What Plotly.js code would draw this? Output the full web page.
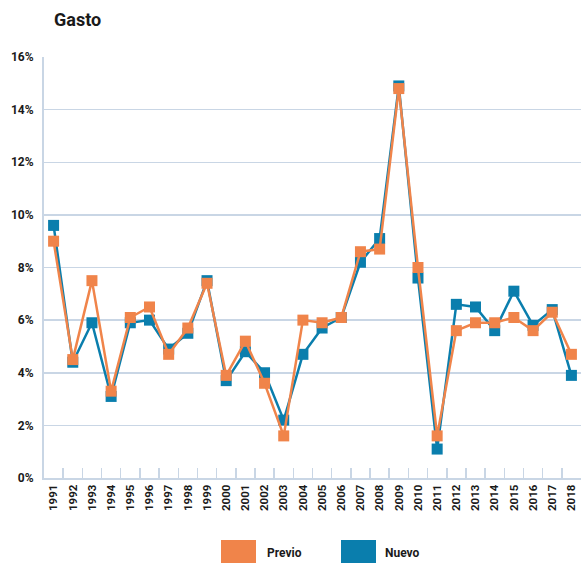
<!DOCTYPE html>
<html>
<head>
<meta charset="utf-8">
<script src="https://cdn.plot.ly/plotly-3.0.1.min.js"></script>
<style>html,body{margin:0;padding:0;background:#fff;}#chart{width:581px;height:564px;}</style>
</head>
<body>
<div id="chart"></div>
<script>
var years = ["1991","1992","1993","1994","1995","1996","1997","1998","1999","2000","2001","2002","2003","2004","2005","2006","2007","2008","2009","2010","2011","2012","2013","2014","2015","2016","2017","2018"];
var nuevo = [9.6,4.4,5.9,3.1,5.9,6.0,4.9,5.5,7.5,3.7,4.8,4.0,2.2,4.7,5.7,6.1,8.2,9.1,14.9,7.6,1.1,6.6,6.5,5.6,7.1,5.8,6.4,3.9];
var previo = [9.0,4.5,7.5,3.3,6.1,6.5,4.7,5.7,7.4,3.9,5.2,3.6,1.6,6.0,5.9,6.1,8.6,8.7,14.8,8.0,1.6,5.6,5.9,5.9,6.1,5.6,6.3,4.7];
var seriesNames = ["Previo","Nuevo"];
var yTicks = [0,2,4,6,8,10,12,14,16];

var cOrange = "#F0844A", cBlue = "#0A7EAD", cGrid = "#C9D6E5";
var fontFam = "Roboto, 'Liberation Sans', sans-serif";

var traces = [
  {x: years, y: nuevo, name: seriesNames[1], type: "scatter", mode: "lines+markers",
   line: {color: cBlue, width: 2.5}, marker: {symbol: "square", size: 11, color: cBlue}},
  {x: years, y: previo, name: seriesNames[0], type: "scatter", mode: "lines+markers",
   line: {color: cOrange, width: 2.5}, marker: {symbol: "square", size: 11, color: cOrange}}
];

var L = 44, T = 57, W = 537, H = 421;
function px(x){ return (x - L) / W; }
function py(y){ return (T + H - y) / H; }

var layout = {
  width: 581, height: 564,
  margin: {l: L, r: 0, t: T, b: 564 - T - H},
  paper_bgcolor: "#fff", plot_bgcolor: "#fff",
  showlegend: false,
  font: {family: fontFam, color: "#1a1a1a"},
  title: {text: "<b>Gasto</b>", x: 0, xref: "paper", xanchor: "left", y: 1, yref: "container", yanchor: "top",
          pad: {l: 10, t: 13}, font: {size: 18, family: fontFam, color: "#1a1a1a"}},
  xaxis: {type: "category", range: [-0.5, years.length - 0.5], autorange: false, tickangle: -90,
          showgrid: false, showline: true, linecolor: cGrid, linewidth: 2,
          ticks: "inside", tickson: "boundaries", ticklen: 10, tickcolor: cGrid, tickwidth: 1.5,
          tickfont: {size: 11.5, family: fontFam, color: "#1a1a1a", weight: "bold"}, fixedrange: true},
  yaxis: {range: [0, 16], tickvals: yTicks, ticktext: yTicks.map(function(v){return v + "%";}),
          showgrid: true, gridcolor: cGrid, gridwidth: 1.5, zeroline: false,
          showline: true, linecolor: cGrid, linewidth: 2, ticks: "", ticklabelstandoff: 6,
          tickfont: {size: 12, family: fontFam, color: "#1a1a1a", weight: "bold"}, fixedrange: true},
  shapes: [
    {type: "rect", xref: "paper", yref: "paper", x0: px(221), x1: px(256), y0: py(540), y1: py(563),
     fillcolor: cOrange, line: {width: 0}},
    {type: "rect", xref: "paper", yref: "paper", x0: px(341), x1: px(376), y0: py(540), y1: py(563),
     fillcolor: cBlue, line: {width: 0}}
  ],
  annotations: [
    {text: "<b>" + seriesNames[0] + "</b>", xref: "paper", yref: "paper", x: px(265), y: py(553),
     xanchor: "left", yanchor: "middle", showarrow: false, font: {size: 12, family: fontFam, color: "#1a1a1a"}},
    {text: "<b>" + seriesNames[1] + "</b>", xref: "paper", yref: "paper", x: px(383), y: py(553),
     xanchor: "left", yanchor: "middle", showarrow: false, font: {size: 12, family: fontFam, color: "#1a1a1a"}}
  ]
};

Plotly.newPlot("chart", traces, layout, {displayModeBar: false, staticPlot: true});
</script>
</body>
</html>
